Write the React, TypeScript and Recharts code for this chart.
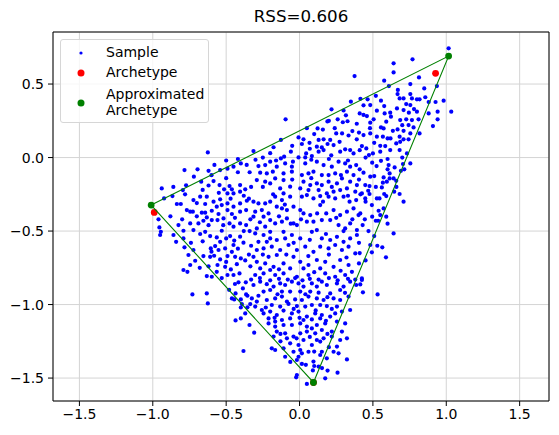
import { CartesianGrid, ReferenceLine, Scatter, ScatterChart, XAxis, YAxis } from "recharts";

// sample points, [x, y]
const samples: [number, number][] = [
  // upper middle
  [0.375, 0.554], [0.218, 0.328], [-0.095, 0.26], [0.19, 0.246], [0.2, 0.25], [0.316, 0.287], [0.295, 0.24],
  [0.327, 0.247], [0.39, 0.23], [0.123, 0.198], [0.159, 0.19], [0.25, 0.164], [0.29, 0.164], [0.334, 0.15],
  [-0.007, 0.137], [0.027, 0.124], [0.068, 0.1], [0.13, 0.12], [0.164, 0.124], [0.209, 0.12], [0.273, 0.107],
  [0.39, 0.124], [-0.127, 0.12], [-0.177, 0.07], [-0.314, 0.044], [-0.059, 0.04], [0.016, 0.092], [0.118, 0.074],
  [0.152, 0.069], [0.191, 0.092], [0.232, 0.085], [0.311, 0.056], [0.345, 0.051], [0.045, 0.028], [0.13, 0.04],
  [0.164, 0.051], [-0.105, 0.006], [-0.127, -0.006], [-0.007, 0.001], [0.039, 0.001], [0.084, 0.01], [0.216, 0.015],
  [0.277, 0.04], [0.368, 0.028], [-0.625, 0.035],
  // upper right
  [1.016, 0.743], [0.77, 0.668], [0.641, 0.641], [0.641, 0.579], [0.577, 0.523], [0.814, 0.545], [0.755, 0.5],
  [0.936, 0.486], [0.609, 0.486], [0.668, 0.432], [0.709, 0.402], [0.464, 0.396], [0.436, 0.355], [0.755, 0.432],
  [0.766, 0.402], [0.8, 0.396], [0.818, 0.396], [0.857, 0.41], [0.682, 0.402], [0.555, 0.387], [0.88, 0.378],
  [0.927, 0.378], [0.982, 0.387], [0.482, 0.357], [0.577, 0.35], [0.727, 0.364], [0.755, 0.357], [0.664, 0.334],
  [0.709, 0.323], [0.527, 0.319], [0.618, 0.305], [0.623, 0.278], [0.8, 0.312], [0.745, 0.305], [0.941, 0.312],
  [1.034, 0.312], [0.459, 0.282], [0.436, 0.29], [0.505, 0.26], [0.482, 0.237], [0.686, 0.255], [0.727, 0.26],
  [0.766, 0.255], [0.811, 0.26], [0.941, 0.26], [0.909, 0.214], [0.591, 0.244], [0.555, 0.205], [0.573, 0.198],
  [0.636, 0.182], [0.668, 0.191], [0.709, 0.182], [0.743, 0.221], [0.777, 0.205], [0.818, 0.164], [0.436, 0.153],
  [0.482, 0.164], [0.527, 0.142], [0.568, 0.142], [0.6, 0.13], [0.682, 0.142], [0.709, 0.124], [0.755, 0.164],
  [0.743, 0.124], [0.509, 0.1], [0.584, 0.078], [0.659, 0.096], [0.686, 0.107], [0.425, 0.078], [0.455, 0.062],
  [0.55, 0.04], [0.618, 0.051], [0.682, 0.051], [0.473, 0.017], [0.5, 0.028], [0.732, 0.028],
  // right
  [0.495, -0.035], [0.525, -0.058], [0.555, -0.022], [0.607, -0.051], [0.648, -0.067], [0.705, -0.044],
  [0.755, -0.04], [0.436, -0.103], [0.482, -0.13], [0.509, -0.126], [0.573, -0.135], [0.614, -0.108],
  [0.614, -0.142], [0.691, -0.09], [0.714, -0.08], [0.448, -0.187], [0.477, -0.194], [0.568, -0.171],
  [0.595, -0.164], [0.641, -0.142], [0.659, -0.158], [0.468, -0.226], [0.425, -0.244], [0.448, -0.278],
  [0.477, -0.248], [0.561, -0.203], [0.577, -0.248], [0.591, -0.262], [0.645, -0.232], [0.682, -0.248],
  [0.709, -0.3], [0.527, -0.278], [0.545, -0.278], [0.493, -0.323], [0.414, -0.38], [0.445, -0.42],
  [0.539, -0.362], [0.573, -0.346], [0.55, -0.391], [0.591, -0.402], [0.495, -0.402], [0.52, -0.43],
  [0.536, -0.43], [0.43, -0.459], [0.641, -0.516], [0.509, -0.534], [0.482, -0.595], [0.493, -0.645],
  [0.564, -0.611], [0.589, -0.679], [0.425, -0.822], [0.425, -0.833], [0.432, -0.917], [0.532, -0.931],
  [0.414, -0.863],
  // left
  [-0.784, -0.085], [-0.695, -0.08], [-0.62, -0.09], [-0.541, -0.085], [-0.491, -0.076], [-0.45, -0.062],
  [-0.4, -0.04], [-0.67, -0.164], [-0.773, -0.189], [-0.586, -0.16], [-0.545, -0.187], [-0.514, -0.216],
  [-0.939, -0.21], [-0.795, -0.221], [-0.866, -0.262], [-0.923, -0.278], [-0.477, -0.194], [-0.461, -0.216],
  [-0.45, -0.244], [-0.491, -0.244], [-0.405, -0.187], [-0.405, -0.232], [-0.37, -0.216], [-0.836, -0.316],
  [-0.809, -0.316], [-0.723, -0.289], [-0.677, -0.266], [-0.632, -0.266], [-0.643, -0.316], [-0.586, -0.3],
  [-0.541, -0.284], [-0.53, -0.323], [-0.564, -0.334], [-0.491, -0.312], [-0.768, -0.357], [-0.745, -0.368],
  [-0.727, -0.368], [-0.666, -0.375], [-0.643, -0.375], [-0.632, -0.407], [-0.598, -0.362], [-0.552, -0.384],
  [-0.491, -0.357], [-0.461, -0.384], [-0.405, -0.368], [-0.364, -0.357], [-0.45, -0.334], [-0.405, -0.312],
  [-0.359, -0.294], [-0.825, -0.459], [-0.745, -0.448], [-0.689, -0.448], [-0.655, -0.43], [-0.961, -0.42],
  [-0.955, -0.475], [-0.598, -0.425], [-0.559, -0.425], [-0.518, -0.414], [-0.477, -0.448], [-0.45, -0.47],
  [-0.405, -0.448], [-0.364, -0.459], [-0.723, -0.493], [-0.791, -0.498], [-0.859, -0.527], [-0.677, -0.52],
  [-0.945, -0.505], [-0.95, -0.527], [-0.643, -0.505], [-0.609, -0.534], [-0.564, -0.543], [-0.53, -0.498],
  [-0.473, -0.534], [-0.445, -0.565], [-0.405, -0.538], [-0.382, -0.579], [-0.541, -0.573], [-0.575, -0.602],
  [-0.605, -0.618], [-0.784, -0.611], [-0.757, -0.663], [-0.723, -0.629], [-0.841, -0.573], [-0.791, -0.55],
  [-0.655, -0.67], [-0.609, -0.675], [-0.582, -0.668], [-0.541, -0.693], [-0.491, -0.67], [-0.439, -0.675],
  [-0.4, -0.686], [-0.552, -0.629], [-0.507, -0.618], [-0.461, -0.641], [-0.45, -0.595], [-0.745, -0.731],
  [-0.711, -0.702], [-0.559, -0.731], [-0.507, -0.743], [-0.468, -0.761], [-0.427, -0.725], [-0.791, -0.765],
  [-0.764, -0.777], [-0.564, -0.777], [-0.491, -0.799], [-0.45, -0.799], [-0.409, -0.788], [-0.632, -0.806],
  [-0.598, -0.811],
  // lower left
  [-0.73, -0.931], [-0.632, -0.924], [-0.625, -0.992], [-0.416, -0.849], [-0.366, -0.849], [-0.386, -0.89],
  [-0.355, -0.94], [-0.364, -0.931], [-0.461, -0.958], [-0.445, -0.965], [-0.4, -0.965], [-0.393, -0.997],
  [-0.355, -1.019], [-0.336, -0.997], [-0.436, -0.924], [-0.436, -1.108], [-0.4, -1.094], [-0.341, -1.139],
  [-0.382, -1.316],
  // centre
  [-0.28, -0.058], [-0.234, -0.051], [-0.2, -0.028], [-0.155, -0.062], [-0.098, -0.04], [-0.045, -0.028],
  [-0.052, -0.062], [0.039, -0.04], [0.118, -0.028], [0.164, -0.051], [0.22, -0.062], [0.266, -0.028],
  [0.311, -0.04], [0.345, -0.062], [0.386, -0.051], [-0.268, -0.103], [-0.223, -0.108], [-0.182, -0.096],
  [-0.109, -0.108], [-0.052, -0.096], [0.016, -0.119], [0.061, -0.108], [0.095, -0.096], [0.152, -0.119],
  [0.198, -0.119], [0.243, -0.108], [0.282, -0.119], [0.323, -0.096], [0.368, -0.119], [-0.291, -0.153],
  [-0.234, -0.164], [-0.2, -0.176], [-0.166, -0.142], [-0.109, -0.153], [0.027, -0.164], [0.073, -0.187],
  [0.118, -0.176], [0.152, -0.187], [0.198, -0.164], [0.255, -0.176], [0.289, -0.142], [0.345, -0.164],
  [0.391, -0.187], [-0.132, -0.21], [-0.064, -0.198], [0.005, -0.21], [0.061, -0.221], [0.13, -0.221],
  [0.186, -0.244], [0.232, -0.232], [0.277, -0.221], [0.323, -0.21], [0.38, -0.232], [-0.314, -0.3],
  [-0.28, -0.312], [-0.234, -0.312], [-0.2, -0.3], [-0.166, -0.266], [-0.109, -0.244], [-0.064, -0.266],
  [-0.12, -0.289], [0.016, -0.266], [0.05, -0.255], [0.095, -0.278], [0.141, -0.262], [0.198, -0.266],
  [0.243, -0.278], [0.3, -0.266], [0.341, -0.3], [0.386, -0.289], [-0.302, -0.368], [-0.257, -0.357],
  [-0.211, -0.38], [-0.155, -0.334], [-0.12, -0.346], [-0.086, -0.357], [-0.041, -0.334], [0.005, -0.357],
  [0.027, -0.38], [0.073, -0.391], [0.141, -0.323], [0.182, -0.38], [0.232, -0.357], [0.277, -0.391],
  [0.323, -0.368], [0.368, -0.346], [0.402, -0.391], [-0.245, -0.402], [-0.2, -0.425], [-0.314, -0.402],
  [-0.166, -0.448], [-0.12, -0.436], [-0.086, -0.414], [-0.041, -0.448], [-0.018, -0.459], [0.05, -0.436],
  [0.095, -0.436], [0.152, -0.425], [0.209, -0.425], [0.266, -0.459], [0.311, -0.482], [0.345, -0.448],
  [0.391, -0.493], [-0.291, -0.482], [-0.234, -0.47], [-0.302, -0.516], [-0.245, -0.527], [-0.2, -0.505],
  [-0.109, -0.505], [-0.052, -0.527], [0.005, -0.55], [0.084, -0.505], [0.118, -0.493], [0.152, -0.55],
  [0.209, -0.561], [0.255, -0.539], [0.3, -0.573], [0.345, -0.55], [0.391, -0.527], [-0.28, -0.573],
  [-0.223, -0.573], [-0.155, -0.561], [-0.098, -0.55], [-0.291, -0.629], [-0.245, -0.618], [-0.189, -0.606],
  [-0.132, -0.629], [-0.075, -0.595], [-0.018, -0.629], [0.039, -0.606], [0.095, -0.641], [0.141, -0.606],
  [0.198, -0.618], [0.243, -0.595], [0.289, -0.629], [0.334, -0.606], [0.38, -0.652], [-0.314, -0.675],
  [-0.211, -0.675], [-0.155, -0.663], [-0.041, -0.675], [-0.291, -0.709], [-0.234, -0.72], [-0.177, -0.743],
  [-0.109, -0.72], [0.005, -0.709], [0.061, -0.731], [0.118, -0.697], [0.175, -0.709], [0.232, -0.743],
  [0.277, -0.697], [0.334, -0.731], [-0.268, -0.754], [-0.2, -0.765], [-0.064, -0.754], [0.027, -0.754],
  [0.141, -0.754], [-0.302, -0.799], [-0.245, -0.788], [-0.166, -0.799], [-0.109, -0.788], [-0.018, -0.811],
  [0.061, -0.799], [0.175, -0.788], [0.243, -0.811], [0.311, -0.799], [0.357, -0.777],
  // lower middle
  [-0.314, -0.867], [-0.268, -0.844], [-0.223, -0.861], [-0.177, -0.878], [-0.132, -0.856], [-0.098, -0.867],
  [-0.052, -0.844], [-0.007, -0.856], [0.027, -0.878], [0.084, -0.856], [0.118, -0.878], [0.152, -0.844],
  [0.186, -0.867], [0.255, -0.856], [0.3, -0.878], [0.345, -0.844], [0.386, -0.867], [-0.245, -0.912],
  [-0.2, -0.901], [-0.12, -0.912], [-0.064, -0.912], [0.005, -0.912], [0.073, -0.912], [0.13, -0.919],
  [0.209, -0.924], [0.277, -0.901], [-0.325, -0.958], [-0.291, -0.98], [-0.223, -0.969], [-0.166, -0.958],
  [-0.12, -0.946], [-0.086, -0.98], [-0.03, -0.965], [0.016, -0.969], [0.061, -0.946], [0.118, -0.958],
  [0.164, -0.969], [0.232, -0.958], [0.277, -0.969], [0.334, -0.946], [-0.302, -1.014], [-0.257, -1.037],
  [-0.189, -1.003], [-0.132, -1.014], [-0.075, -0.996], [-0.018, -1.01], [0.039, -1.014], [0.084, -1.003],
  [0.141, -1.003], [0.186, -1.01], [0.255, -1.014], [-0.245, -1.06], [-0.2, -1.048], [-0.155, -1.071],
  [-0.109, -1.041], [-0.052, -1.06], [-0.007, -1.048], [0.05, -1.082], [0.107, -1.06], [0.152, -1.071],
  [0.209, -1.082], [0.243, -1.06], [0.289, -1.048], [0.345, -1.037], [-0.211, -1.094], [-0.166, -1.116],
  [-0.12, -1.105], [-0.064, -1.094], [0.027, -1.105], [0.084, -1.101], [0.141, -1.094], [-0.211, -1.128],
  [-0.166, -1.15], [-0.109, -1.139], [-0.052, -1.139], [0.005, -1.128], [0.05, -1.15], [0.084, -1.162],
  [0.118, -1.139], [0.175, -1.128], [0.255, -1.116], [0.311, -1.128], [-0.309, -1.191], [-0.155, -1.184],
  [-0.098, -1.196], [0.005, -1.196], [0.05, -1.184], [0.107, -1.196], [0.152, -1.173], [0.22, -1.184],
  [0.289, -1.184], [-0.177, -1.218], [-0.086, -1.23], [-0.041, -1.218], [0.027, -1.241], [0.118, -1.241],
  [0.164, -1.23], [0.22, -1.218], [0.277, -1.241], [0.323, -1.23], [-0.064, -1.264], [-0.007, -1.275],
  [0.084, -1.275], [0.141, -1.252], [0.255, -1.286], [-0.189, -1.298], [-0.166, -1.309], [-0.109, -1.298],
  [-0.041, -1.321], [0.005, -1.309], [0.016, -1.332], [0.061, -1.321], [0.152, -1.321], [0.232, -1.321],
  [0.266, -1.332], [-0.098, -1.355], [-0.007, -1.355], [0.141, -1.343], [0.186, -1.366], [0.323, -1.373],
  [-0.018, -1.377], [0.095, -1.388], [0.13, -1.422], [0.191, -1.449], [0.259, -1.463], [-0.018, -1.479],
  [-0.023, -1.495], [0.175, -1.502], [0.05, -1.54], [0.016, -1.404], [0.1, -1.418], [0.091, -1.448],
  [0.153, -1.432], [0.043, -1.41], [-0.063, -1.39],
  // extra points in the denser parts
  [-0.33, -0.83], [-0.27, -0.82], [-0.2, -0.835], [-0.14, -0.825], [-0.08, -0.83], [-0.03, -0.82],
  [0.02, -0.835], [0.07, -0.825], [0.13, -0.83], [0.2, -0.82], [0.26, -0.835], [0.33, -0.825], [0.38, -0.83],
  [-0.34, -0.1], [-0.33, -0.2], [-0.345, -0.28], [-0.335, -0.42], [-0.34, -0.5], [-0.33, -0.6], [-0.345, -0.66],
  [-0.335, -0.74], [0.41, -0.08], [0.405, -0.15], [0.415, -0.25], [0.41, 0.05], [0.405, 0.17], [0.41, 0.3],
  [0.415, 0.4], [0.405, -0.58], [0.41, -0.65], [0.405, -0.72], [-0.5, -0.02], [-0.42, -0.01], [-0.3, -0.015],
  [-0.25, 0.0], [-0.16, -0.02], [0.08, -0.015], [0.2, -0.01], [0.33, -0.02], [0.45, 0.0], [0.6, -0.01],
  [0.7, 0.0], [-0.72, -0.13], [-0.66, -0.22], [-0.6, -0.12], [-0.55, -0.24], [-0.5, -0.14], [-0.47, -0.28],
  [-0.42, -0.1], [-0.38, -0.26], [-0.7, -0.31], [-0.62, -0.19], [-0.86, -0.2], [-0.78, -0.25], [-0.36, -0.05],
  [-0.58, -0.05], [-0.88, -0.4], [-0.8, -0.42], [-0.7, -0.4], [-0.62, -0.46], [-0.52, -0.46], [-0.44, -0.41],
  [-0.38, -0.5], [-0.5, -0.55], [-0.66, -0.57], [-0.74, -0.58], [-0.6, -0.64], [-0.5, -0.71], [-0.42, -0.62],
  [-0.37, -0.7], [-0.68, -0.75], [-0.62, -0.74], [-0.53, -0.82], [-0.44, -0.86], [-0.48, -0.9], [-0.4, -1.02],
  [-0.37, -1.06], [-0.25, -0.2], [-0.18, -0.25], [-0.05, -0.15], [0.08, -0.14], [0.22, -0.2], [0.33, -0.26],
  [-0.27, -0.44], [-0.14, -0.4], [0.01, -0.42], [0.12, -0.38], [0.25, -0.41], [0.36, -0.42], [-0.2, -0.55],
  [-0.04, -0.58], [0.07, -0.56], [0.18, -0.52], [0.3, -0.5], [-0.25, -0.66], [-0.09, -0.66], [0.06, -0.67],
  [0.2, -0.66], [0.32, -0.68], [-0.14, -0.76], [0.1, -0.78], [0.28, -0.77], [-0.06, -0.45], [0.16, -0.3],
  [-0.1, -0.32], [-0.2, 0.03], [-0.05, 0.08], [0.07, 0.06], [0.1, 0.16], [0.24, 0.2], [0.36, 0.18], [0.05, 0.2],
  [0.3, 0.32], [0.35, 0.38], [0.26, 0.26], [0.45, -0.3], [0.52, -0.2], [0.6, -0.08], [0.66, -0.2], [0.55, 0.08],
  [0.62, 0.13], [0.7, 0.22], [0.48, 0.2], [0.52, 0.42], [0.58, 0.3], [0.67, 0.46], [0.85, 0.47], [0.78, 0.33],
  [0.88, 0.3], [0.47, -0.5], [0.53, -0.6], [0.45, -0.7], [0.6, -0.45], [-0.28, -0.94], [-0.15, -0.93],
  [0.04, -0.93], [0.19, -0.95], [0.31, -0.92], [-0.23, -1.02], [-0.04, -1.03], [0.11, -1.04], [0.22, -1.03],
  [-0.17, -1.09], [0.0, -1.09], [0.18, -1.11], [-0.13, -1.2], [0.07, -1.22], [0.19, -1.2], [-0.02, -1.23],
  [0.1, -1.32], [0.2, -1.29], [-0.13, -1.25],
];

const archetypes: [number, number][] = [[-0.99, -0.373], [0.927, 0.573], [0.095, -1.53]];
const approxArchetypes: [number, number][] = [[-1.011, -0.323], [1.016, 0.69], [0.095, -1.53]];

const xDomain = [-1.68, 1.7];
const yDomain = [-1.656, 0.854];
const xTicks = [-1.5, -1, -0.5, 0, 0.5, 1, 1.5];
const yTicks = [-1.5, -1, -0.5, 0, 0.5];

const toPts = (arr: [number, number][]) => arr.map(([x, y]) => ({ x, y }));
const fmt = (v: number) => v.toFixed(1).replace("-", "\u2212");

const FONT = "'DejaVu Sans', sans-serif";

const dot = (r: number, fill: string) => (p: any) =>
  p.cx == null ? <g /> : <circle cx={p.cx} cy={p.cy} r={r} fill={fill} />;

function LegendBox() {
  const row = { position: "absolute" as const, left: 45, fontSize: 14, lineHeight: "16px" };
  return (
    <div
      style={{
        position: "absolute",
        left: 60,
        top: 39,
        width: 147,
        height: 82,
        border: "1px solid #d6d6d6",
        borderRadius: 3,
        background: "rgba(255,255,255,0.8)",
        fontFamily: FONT,
        color: "#000",
      }}
    >
      <svg width={40} height={82} style={{ position: "absolute", left: 0, top: 0 }}>
        <circle cx={20} cy={13} r={1.6} fill="blue" />
        <circle cx={20} cy={33} r={3.5} fill="red" />
        <circle cx={20} cy={63} r={3.5} fill="green" />
      </svg>
      <div style={{ ...row, top: 4 }}>Sample</div>
      <div style={{ ...row, top: 24 }}>Archetype</div>
      <div style={{ ...row, top: 46 }}>
        Approximated
        <br />
        Archetype
      </div>
    </div>
  );
}

export default function App() {
  const hull = toPts([...approxArchetypes, approxArchetypes[0]]);
  return (
    <div style={{ position: "relative", width: 559, height: 435, background: "#fff", fontFamily: FONT }}>
      <style>{"body{margin:0}"}</style>
      <div
        style={{
          position: "absolute",
          left: 53,
          width: 496,
          top: 6,
          textAlign: "center",
          fontSize: 16.7,
          color: "#000",
        }}
      >
        RSS=0.606
      </div>
      <ScatterChart width={559} height={435} margin={{ top: 32, right: 10, bottom: 0, left: 0 }}>
        <CartesianGrid stroke="#d4d4d4" strokeWidth={1} />
        <XAxis
          type="number"
          dataKey="x"
          domain={xDomain}
          ticks={xTicks}
          allowDataOverflow
          tickFormatter={fmt}
          height={34}
          tickSize={5}
          tickMargin={3}
          stroke="#000"
          tick={{ fill: "#000", fontSize: 14, fontFamily: FONT }}
        />
        <YAxis
          type="number"
          dataKey="y"
          domain={yDomain}
          ticks={yTicks}
          allowDataOverflow
          tickFormatter={fmt}
          width={53}
          tickSize={5}
          tickMargin={4}
          stroke="#000"
          tick={{ fill: "#000", fontSize: 14, fontFamily: FONT }}
        />
        <ReferenceLine y={yDomain[1]} stroke="#000" />
        <ReferenceLine x={xDomain[1]} stroke="#000" />
        <Scatter data={toPts(samples)} shape={dot(2.1, "blue")} isAnimationActive={false} />
        <Scatter data={toPts(archetypes)} shape={dot(3.4, "red")} isAnimationActive={false} />
        <Scatter
          data={hull}
          line={{ stroke: "green", strokeWidth: 1.1 }}
          shape={() => <g />}
          isAnimationActive={false}
        />
        <Scatter data={toPts(approxArchetypes)} shape={dot(3.4, "green")} isAnimationActive={false} />
      </ScatterChart>
      <LegendBox />
    </div>
  );
}
